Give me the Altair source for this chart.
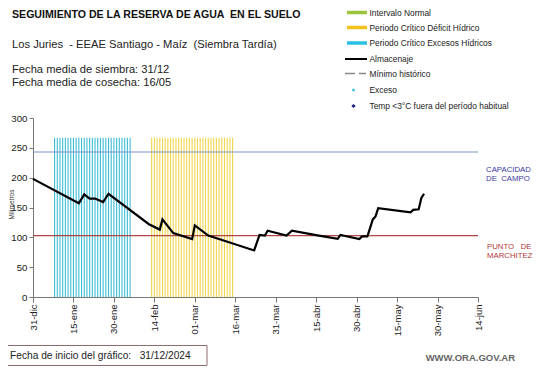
import altair as alt
import pandas as pd

FONT = "Liberation Sans"
START = pd.Timestamp("2024-12-31")
NB = "\u00a0"

# ---- data -------------------------------------------------------------
alm_dates = ["2024-12-31", "2025-01-17", "2025-01-19", "2025-01-21", "2025-01-23",
             "2025-01-26", "2025-01-28", "2025-02-12", "2025-02-16", "2025-02-17",
             "2025-02-21", "2025-02-28", "2025-03-01", "2025-03-06", "2025-03-23",
             "2025-03-25", "2025-03-27", "2025-03-28", "2025-04-04", "2025-04-06",
             "2025-04-16", "2025-04-23", "2025-04-24", "2025-05-01", "2025-05-02",
             "2025-05-04", "2025-05-06", "2025-05-07", "2025-05-08", "2025-05-20",
             "2025-05-21", "2025-05-23", "2025-05-24", "2025-05-25"]
alm_values = [198, 157, 172, 165, 165,
              159, 173, 122, 113, 130,
              107, 97, 120, 103, 78,
              104, 103, 111, 103, 111,
              103, 97.5, 104, 97, 101.5,
              101.5, 130, 135, 149, 142,
              146, 147, 166, 173]

exceso_start, exceso_end = "2025-01-08", "2025-02-05"   # periodo crítico excesos
deficit_start, deficit_end = "2025-02-13", "2025-03-15"  # periodo crítico déficit
period_top = 267

capacidad_campo = 243
punto_marchitez = 103

tick_labels = ["31-dic", "15-ene", "30-ene", "14-feb", "01-mar", "16-mar",
               "31-mar", "15-abr", "30-abr", "15-may", "30-may", "14-jun"]
y_ticks = [0, 50, 100, 150, 200, 250, 300]

legend_labels = ["Intervalo Normal", "Periodo Crítico Déficit Hídrico",
                 "Periodo Crítico Excesos Hídricos", "Almacenaje", "Mínimo histórico",
                 "Exceso", "Temp <3°C fuera del período habitual"]


def to_day(s):
    return (pd.Timestamp(s) - START).days


alm = pd.DataFrame({"day": [to_day(d) for d in alm_dates], "v": alm_values})
blue = pd.DataFrame({"day": [to_day(d) for d in pd.date_range(exceso_start, exceso_end)]})
blue["v"] = 0
blue["v2"] = period_top
yel = pd.DataFrame({"day": [to_day(d) for d in pd.date_range(deficit_start, deficit_end)]})
yel["v"] = 0
yel["v2"] = period_top
refs = pd.DataFrame({"v": [capacidad_campo, punto_marchitez], "k": ["cc", "pm"]})

tick_days = [15 * i for i in range(len(tick_labels))]
label_expr = "[" + ",".join(f"'{t}'" for t in tick_labels) + "][round(datum.value/15)]"

xscale = alt.Scale(domain=[0, 165], nice=False, zero=False)
yscale = alt.Scale(domain=[0, 300], nice=False)
xaxis = alt.Axis(values=tick_days, labelExpr=label_expr, labelAngle=-90, labelFontSize=9.5,
                 labelFont=FONT, labelColor="#222", tickColor="#777", domainColor="#777",
                 tickSize=5, grid=False, labelPadding=2, labelFlush=False, labelOverlap=False,
                 title=None)
yaxis = alt.Axis(values=y_ticks, labelFontSize=9.7, labelFont=FONT, labelColor="#222",
                 tickColor="#777", domainColor="#777", tickSize=4, grid=False, labelPadding=2,
                 labelFlush=False, title="Milímetros", titleFontSize=6.5, titleFont=FONT,
                 titleFontWeight="normal", titleColor="#333", titleAngle=270,
                 titleX=-24.5, titleY=86, titleBaseline="top", titleAlign="center")

X = alt.X("day:Q", scale=xscale, axis=xaxis)
Y = alt.Y("v:Q", scale=yscale, axis=yaxis)

OX, OY = 33, 118  # plot origin in page coordinates (for annotations)

layers = []
layers.append(alt.Chart(blue).mark_rule(color="#3dbdd6", strokeWidth=1.1).encode(x=X, y=Y, y2="v2:Q"))
layers.append(alt.Chart(yel).mark_rule(color="#f1d54e", strokeWidth=1.1).encode(x=X, y=Y, y2="v2:Q"))
layers.append(alt.Chart(refs).mark_rule(strokeWidth=1.2).encode(
    y=Y, color=alt.Color("k:N", scale=alt.Scale(domain=["cc", "pm"], range=["#7f95c8", "#b04848"]),
                         legend=None)))
layers.append(alt.Chart(alm).mark_line(color="black", strokeWidth=2.2).encode(x=X, y=Y))


def txt(s, x, y, size, color="#222", bold=False, align="left", font=FONT):
    return alt.Chart(pd.DataFrame({"t": [s]})).mark_text(
        align=align, baseline="middle", fontSize=size, font=font,
        fontWeight="bold" if bold else "normal", color=color
    ).encode(x=alt.value(x - OX), y=alt.value(y - OY), text="t:N")


def hline(x1, x2, y, color, width, dash=None):
    kw = dict(color=color, strokeWidth=width)
    if dash:
        kw["strokeDash"] = dash
    return alt.Chart(pd.DataFrame({"a": [0]})).mark_rule(**kw).encode(
        x=alt.value(x1 - OX), x2=alt.value(x2 - OX), y=alt.value(y - OY))


# titles
layers.append(txt(f"SEGUIMIENTO DE LA RESERVA DE AGUA {NB}EN EL SUELO", 12, 15, 10.6, "#111", bold=True))
layers.append(txt(f"Los Juries {NB}- EEAE Santiago - Maíz {NB}(Siembra Tardía)", 12, 45, 11.2, "#222"))
layers.append(txt("Fecha media de siembra: 31/12", 12, 70, 11.2, "#222"))
layers.append(txt("Fecha media de cosecha: 16/05", 12, 83, 11.2, "#222"))

# legend
leg_y = [12.5, 27.5, 43, 59, 73.5, 90, 106]
layers.append(hline(347, 367, leg_y[0], "#9ac43c", 3.5))
layers.append(hline(347, 367, leg_y[1], "#f2c21a", 3.5))
layers.append(hline(347, 367, leg_y[2], "#29c0e6", 3.5))
layers.append(hline(345, 367, leg_y[3], "#000", 2))
layers.append(hline(345, 355, leg_y[4], "#888", 1.5))
layers.append(hline(359, 366, leg_y[4], "#888", 1.5))
layers.append(alt.Chart(pd.DataFrame({"a": [0]})).mark_point(
    shape="square", filled=True, size=6, color="#35c0dc", opacity=1).encode(
    x=alt.value(353.5 - OX), y=alt.value(leg_y[5] - OY)))
layers.append(alt.Chart(pd.DataFrame({"a": [0]})).mark_point(
    shape="diamond", filled=True, size=18, color="#1a1a8c", opacity=1).encode(
    x=alt.value(353.5 - OX), y=alt.value(leg_y[6] - OY)))
for lbl, yy in zip(legend_labels, leg_y):
    layers.append(txt(lbl, 369.5, yy, 8.4, "#222"))

# right side labels
layers.append(txt("CAPACIDAD", 486, 170, 7.8, "#3a3aa0"))
layers.append(txt(f"DE {NB}CAMPO", 486, 179, 7.8, "#3a3aa0"))
layers.append(txt(f"PUNTO {NB}{NB}DE", 487, 247, 7.8, "#b03a3a"))
layers.append(txt("MARCHITEZ", 487, 256, 7.8, "#b03a3a"))

# footer
layers.append(alt.Chart(pd.DataFrame({"a": [0]})).mark_rect(
    fillOpacity=0, stroke="#8c6c6c", strokeWidth=1).encode(
    x=alt.value(4 - OX), x2=alt.value(207 - OX), y=alt.value(345.5 - OY), y2=alt.value(365.5 - OY)))
layers.append(txt(f"Fecha de inicio del gráfico: {NB}{NB}31/12/2024", 10, 355.5, 10.2, "#222"))
layers.append(txt("WWW.ORA.GOV.AR", 515, 358, 9.5, "#666", bold=True, align="right"))

chart = alt.layer(*layers).properties(
    width=445, height=179,
    autosize=alt.AutoSizeParams(type="none"),
    padding={"left": OX - 8, "top": OY - 8, "right": 525 - (OX - 8) - 445, "bottom": 358 - (OY - 8) - 179},
).configure_view(stroke=None)

chart.save("out.html", embed_options={"renderer": "svg", "actions": False})
